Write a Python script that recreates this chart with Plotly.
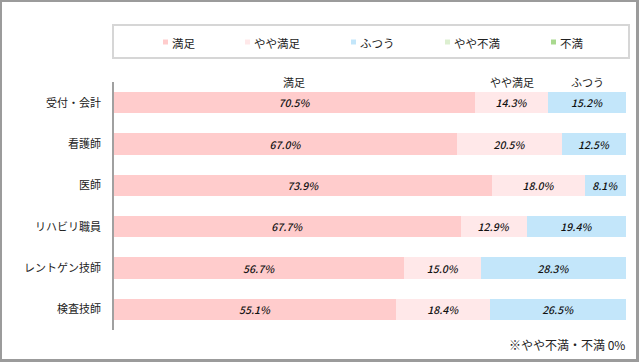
import plotly.graph_objects as go

categories = ["受付・会計", "看護師", "医師", "リハビリ職員", "レントゲン技師", "検査技師"]
series_names = ["満足", "やや満足", "ふつう", "やや不満", "不満"]
manzoku = [70.5, 67.0, 73.9, 67.7, 56.7, 55.1]
yaya_manzoku = [14.3, 20.5, 18.0, 12.9, 15.0, 18.4]
futsuu = [15.2, 12.5, 8.1, 19.4, 28.3, 26.5]
yaya_fuman = [0, 0, 0, 0, 0, 0]
fuman = [0, 0, 0, 0, 0, 0]
series_values = [manzoku, yaya_manzoku, futsuu, yaya_fuman, fuman]
colors = ["#FFCCCC", "#FFE8E9", "#C3E6FA", "#DCEFD0", "#A9D98F"]
footnote = "※やや不満・不満 0%"

W, H = 639, 362
L, R, T, B = 114, 13, 82, 32
PW, PH = W - L - R, H - T - B

def px_x(px):
    return (px - L) / PW

def px_y(py):
    return (H - B - py) / PH

FONT = "Noto Sans CJK JP"

fig = go.Figure()
for name, vals, col in zip(series_names, series_values, colors):
    fig.add_trace(go.Bar(
        y=categories, x=vals, name=name, orientation="h",
        marker=dict(color=col, line=dict(width=0)),
        text=[f"{v:.1f}%" if v > 0 else "" for v in vals],
        textposition="inside", insidetextanchor="middle", textangle=0,
        constraintext="none",
        textfont=dict(family=FONT, size=10.5, color="#111111", style="italic", weight=500),
        showlegend=False,
    ))

shapes = []
# outer frame
frame_col = "#9b9b9b"
for x0, y0, x1, y1 in [(0, 0, 2, H), (0, 0, W, 2), (636, 0, W, H), (0, 359, W, H)]:
    shapes.append(dict(type="rect", xref="paper", yref="paper",
                       x0=px_x(x0), x1=px_x(x1), y0=px_y(y0), y1=px_y(y1),
                       fillcolor=frame_col, line=dict(width=0), layer="above"))
# legend box
shapes.append(dict(type="rect", xref="paper", yref="paper",
                   x0=px_x(113), x1=px_x(629), y0=px_y(25), y1=px_y(58),
                   line=dict(color="#d6d6d6", width=2), fillcolor="rgba(0,0,0,0)"))

annotations = []
# manual legend
leg_sq_x = [163, 245, 351, 445, 551]
for sx, name, col in zip(leg_sq_x, series_names, colors):
    shapes.append(dict(type="rect", xref="paper", yref="paper",
                       x0=px_x(sx), x1=px_x(sx + 5), y0=px_y(39.5), y1=px_y(44.5),
                       fillcolor=col, line=dict(width=0)))
    annotations.append(dict(xref="paper", yref="paper", x=px_x(sx + 7), y=px_y(43),
                            text=name, showarrow=False, xanchor="left", yanchor="middle",
                            font=dict(family=FONT, size=11.5, color="#222222")))

# series labels above first row
cum = 0
for name, vals in zip(series_names, series_values):
    v = vals[0]
    if v > 0:
        annotations.append(dict(x=cum + v / 2, y=categories[0], xref="x", yref="y",
                                text=name, showarrow=False, yshift=21,
                                xanchor="center", yanchor="middle",
                                font=dict(family=FONT, size=11, color="#222222")))
    cum += v

annotations.append(dict(xref="paper", yref="paper", x=px_x(627), y=px_y(344),
                        text=footnote, showarrow=False, xanchor="right", yanchor="middle",
                        font=dict(family=FONT, size=12, color="#222222")))

fig.update_layout(
    width=W, height=H,
    margin=dict(l=L, r=R, t=T, b=B, pad=0),
    barmode="stack", bargap=0.49,
    paper_bgcolor="white", plot_bgcolor="white",
    xaxis=dict(range=[0, 100], visible=False, fixedrange=True),
    yaxis=dict(autorange="reversed", showline=True, linecolor="#a0a0a0", linewidth=1.5,
               showgrid=False, ticks="", ticklabelstandoff=9,
               tickfont=dict(family=FONT, size=11, color="#222222"), zeroline=False),
    shapes=shapes, annotations=annotations,
    showlegend=False,
    font=dict(family=FONT),
)

fig.write_html("out.html", config={"displayModeBar": False},
               post_script="document.body.style.margin='0';document.body.style.overflow='hidden';")
